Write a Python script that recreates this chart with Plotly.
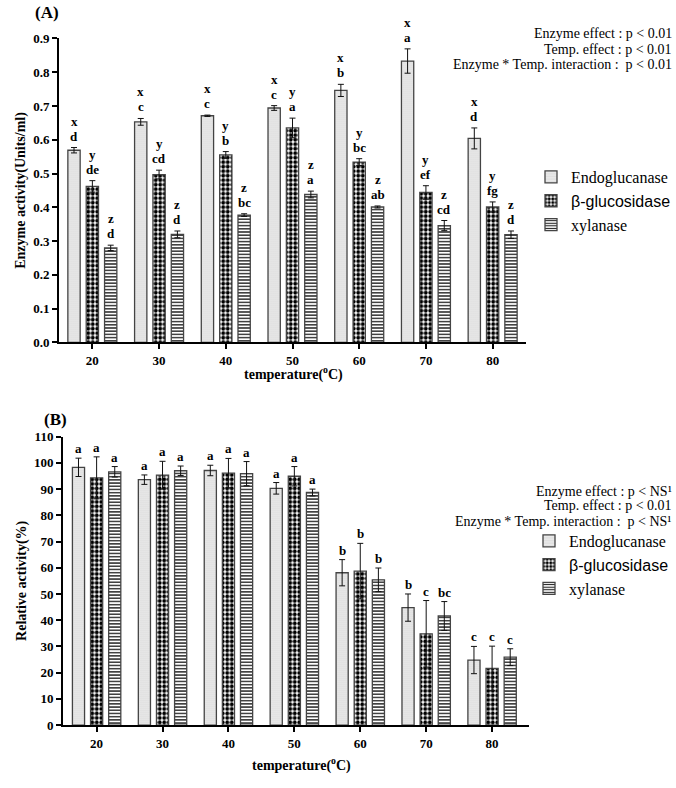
import plotly.graph_objects as go

# ---------------- data ----------------
temps = [20, 30, 40, 50, 60, 70, 80]
enzymes = ["Endoglucanase", "β-glucosidase", "xylanase"]

# Panel A: enzyme activity (Units/ml)
act_endo = [0.569, 0.653, 0.671, 0.694, 0.746, 0.833, 0.604]
act_beta = [0.462, 0.497, 0.555, 0.635, 0.534, 0.444, 0.401]
act_xyl = [0.280, 0.320, 0.377, 0.438, 0.401, 0.346, 0.319]
err_endo = [0.008, 0.010, 0.002, 0.007, 0.018, 0.036, 0.031]
err_beta = [0.017, 0.013, 0.010, 0.029, 0.010, 0.020, 0.015]
err_xyl = [0.008, 0.010, 0.004, 0.010, 0.003, 0.015, 0.011]
grp_letters_a = ["x", "y", "z"]
sig_endo_a = ["d", "c", "c", "c", "b", "a", "d"]
sig_beta_a = ["de", "cd", "b", "a", "bc", "ef", "fg"]
sig_xyl_a = ["d", "d", "bc", "a", "ab", "cd", "d"]

# Panel B: relative activity (%)
rel_endo = [98.3, 93.6, 97.1, 90.3, 58.1, 44.8, 24.8]
rel_beta = [94.3, 95.3, 96.1, 94.9, 58.7, 34.8, 21.6]
rel_xyl = [96.6, 97.0, 95.9, 88.7, 55.4, 41.6, 25.9]
rerr_endo = [3.5, 1.8, 2.0, 2.2, 5.0, 5.2, 5.2]
rerr_beta = [8.0, 5.3, 5.6, 3.7, 10.6, 12.7, 8.5]
rerr_xyl = [2.0, 1.8, 4.6, 1.3, 4.5, 5.5, 3.2]
sig_endo_b = ["a", "a", "a", "a", "b", "b", "c"]
sig_beta_b = ["a", "a", "a", "a", "b", "c", "c"]
sig_xyl_b = ["a", "a", "a", "a", "b", "bc", "c"]

stats_a = ["Enzyme effect : p < 0.01", "Temp. effect : p < 0.01",
           "Enzyme * Temp. interaction :  p < 0.01"]
stats_b = ["Enzyme effect : p < NS¹", "Temp. effect : p < 0.01",
           "Enzyme * Temp. interaction :  p < NS¹"]

# ---------------- styling ----------------
W, H = 676, 788
SERIF = "Liberation Serif"
SANS = "Liberation Sans"
BARGAP = 0.175
BARGROUPGAP = 0.33
STEP = 10
slot = (1 - BARGAP) * STEP / 3
offsets = [-slot, 0, slot]

patterns = [
    dict(shape=".", size=2, solidity=0.3, fgcolor="#8a8a8a", bgcolor="#ffffff",
         fgopacity=1),
    dict(shape=".", size=4.5, solidity=0.6, fgcolor="#000000", bgcolor="#ffffff",
         fgopacity=1),
    dict(shape="-", size=3.2, solidity=0.4, fgcolor="#111111", bgcolor="#ffffff",
         fgopacity=1),
]
legend_names = [
    f'<span style="font-family:{SERIF}">Endoglucanase</span>',
    f'<span style="font-family:{SANS}">β-glucosidase</span>',
    f'<span style="font-family:{SERIF}">xylanase</span>',
]

fig = go.Figure()

panel_a = [(act_endo, err_endo), (act_beta, err_beta), (act_xyl, err_xyl)]
panel_b = [(rel_endo, rerr_endo), (rel_beta, rerr_beta), (rel_xyl, rerr_xyl)]

for i, (vals, errs) in enumerate(panel_a):
    fig.add_trace(go.Bar(
        x=temps, y=vals, name=legend_names[i], xaxis="x", yaxis="y",
        legend="legend",
        marker=dict(color="white", pattern=patterns[i],
                    line=dict(color="#444444", width=1.3)),
        error_y=dict(type="data", array=errs, visible=True, color="#111111",
                     thickness=1, width=3),
    ))
for i, (vals, errs) in enumerate(panel_b):
    fig.add_trace(go.Bar(
        x=temps, y=vals, name=legend_names[i], xaxis="x2", yaxis="y2",
        legend="legend2",
        marker=dict(color="white", pattern=patterns[i],
                    line=dict(color="#444444", width=1.3)),
        error_y=dict(type="data", array=errs, visible=True, color="#111111",
                     thickness=1, width=3),
    ))

annotations = []
letter_font = dict(family=SERIF, size=13, color="black", weight="bold")

# panel A letters
sig_a = [sig_endo_a, sig_beta_a, sig_xyl_a]
for i, (vals, errs) in enumerate(panel_a):
    for j, t in enumerate(temps):
        top = vals[j] + errs[j]
        annotations.append(dict(x=t + offsets[i], y=top, xref="x", yref="y",
                                text=sig_a[i][j], showarrow=False,
                                yanchor="bottom", yshift=2, font=letter_font))
        annotations.append(dict(x=t + offsets[i], y=top, xref="x", yref="y",
                                text=grp_letters_a[i], showarrow=False,
                                yanchor="bottom", yshift=17, font=letter_font))
# panel B letters
sig_b = [sig_endo_b, sig_beta_b, sig_xyl_b]
for i, (vals, errs) in enumerate(panel_b):
    for j, t in enumerate(temps):
        top = vals[j] + errs[j]
        annotations.append(dict(x=t + offsets[i], y=top, xref="x2", yref="y2",
                                text=sig_b[i][j], showarrow=False,
                                yanchor="bottom", yshift=0, font=letter_font))

# stats text
stat_font = dict(family=SERIF, size=14, color="black")
for k, (txt, ypx) in enumerate(zip(stats_a, [27, 43, 59])):
    annotations.append(dict(x=674 / W, y=1 - ypx / H, xref="paper", yref="paper",
                            text=txt, showarrow=False, xanchor="right",
                            yanchor="middle", font=stat_font))
for k, (txt, ypx) in enumerate(zip(stats_b, [494, 508, 524])):
    annotations.append(dict(x=674 / W, y=1 - ypx / H, xref="paper", yref="paper",
                            text=txt, showarrow=False, xanchor="right",
                            yanchor="middle", font=stat_font))

# panel labels
for txt, xpx, ypx in [("(A)", 47, 6), ("(B)", 55, 421)]:
    annotations.append(dict(x=xpx / W, y=1 - ypx / H, xref="paper", yref="paper",
                            text=txt, showarrow=False, xanchor="center",
                            yanchor="middle",
                            font=dict(family=SERIF, size=17, color="black",
                                      weight="bold")))

title_font = dict(family=SERIF, size=14, color="black", weight="bold")
# x-axis titles (placed as paper annotations for exact position)
for xpx, ypx in [(293, 374), (301, 772)]:
    annotations.append(dict(x=xpx / W, y=1 - ypx / H, xref="paper", yref="paper",
                            text="temperature(<sup>o</sup>C)", showarrow=False,
                            xanchor="center", yanchor="middle", font=title_font))

tick_font = dict(family=SERIF, size=13, color="black", weight="bold")
common_axis = dict(showline=True, linewidth=2, linecolor="black", ticks="outside",
                   ticklen=5, tickwidth=2, tickcolor="black", showgrid=False,
                   zeroline=False, tickfont=tick_font, fixedrange=True)

fig.update_layout(
    width=W, height=H,
    margin=dict(l=0, r=0, t=0, b=0),
    font=dict(family=SERIF, color="black"),
    paper_bgcolor="white", plot_bgcolor="white",
    barmode="group", bargap=BARGAP, bargroupgap=BARGROUPGAP,
    xaxis=dict(domain=[59 / W, 526 / W], anchor="y", range=[15, 85],
               tickvals=temps, ticktext=[str(t) for t in temps],
               **common_axis),
    yaxis=dict(domain=[1 - 342 / H, 1 - 32 / H], anchor="x", range=[0, 0.9],
               dtick=0.1, tickformat=".1f",
               title=dict(text="Enzyme activity(Units/ml)", font=title_font,
                          standoff=4),
               **common_axis),
    xaxis2=dict(domain=[63 / W, 529 / W], anchor="y2", range=[14.9, 85.6],
                tickvals=temps, ticktext=[str(t) for t in temps],
                **common_axis),
    yaxis2=dict(domain=[1 - 732 / H, 1 - 438 / H], anchor="x2", range=[0, 110],
                dtick=10,
                title=dict(text="Relative activity(%)", font=title_font,
                           standoff=4),
                **common_axis),
    legend=dict(x=531 / W, y=1 - 156 / H, xanchor="left", yanchor="top",
                font=dict(family=SERIF, size=16, color="black"),
                bgcolor="rgba(0,0,0,0)", tracegroupgap=0),
    legend2=dict(x=529 / W, y=1 - 527 / H, xanchor="left", yanchor="top",
                 font=dict(family=SERIF, size=16, color="black"),
                 bgcolor="rgba(0,0,0,0)", tracegroupgap=0),
    annotations=annotations,
    showlegend=True,
)

fig.write_html("out.html",
               config={"displayModeBar": False},
               post_script="document.body.style.margin='0';"
                           "document.body.style.overflow='hidden';")
